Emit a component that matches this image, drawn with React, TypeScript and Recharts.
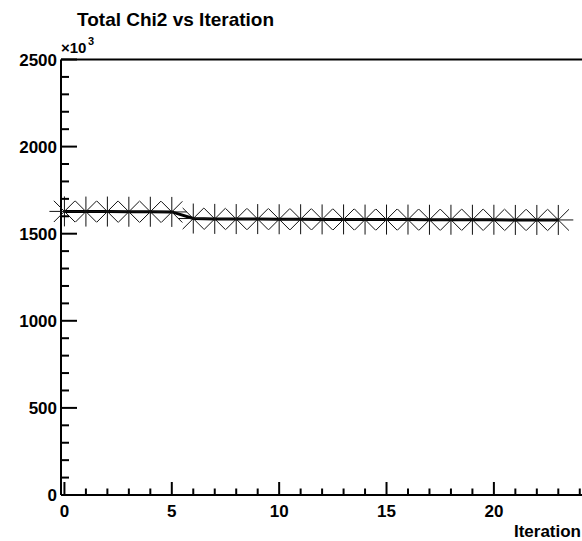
import React from 'react';
import { LineChart, Line, XAxis, YAxis, ReferenceLine } from 'recharts';

// ---- data (chi2 shown in units of 10^3) ----
const iterations = [0, 1, 2, 3, 4, 5, 6, 7, 8, 9, 10, 11, 12, 13, 14, 15, 16, 17, 18, 19, 20, 21, 22, 23];
const chi2Values = [1628, 1627, 1627, 1626, 1626, 1625, 1587, 1585, 1584, 1584, 1583, 1583, 1582, 1582, 1581, 1581, 1581, 1580, 1580, 1580, 1580, 1579, 1579, 1579];

const xMajorTicks = [0, 5, 10, 15, 20];
const xAllTicks = [0, 1, 2, 3, 4, 5, 6, 7, 8, 9, 10, 11, 12, 13, 14, 15, 16, 17, 18, 19, 20, 21, 22, 23, 24];
const yMajorTicks = [0, 500, 1000, 1500, 2000, 2500];
const yAllTicks = [0, 100, 200, 300, 400, 500, 600, 700, 800, 900, 1000, 1100, 1200, 1300, 1400, 1500, 1600, 1700, 1800, 1900, 2000, 2100, 2200, 2300, 2400, 2500];

const chartTitle = 'Total Chi2 vs Iteration';
const xTitle = 'Iteration';
const exponentBase = '×10';
const exponentPower = '3';

const xDomain: [number, number] = [-0.16, 24.29];
const yDomain: [number, number] = [0, 2500];

const data = iterations.map((it, i) => ({ iter: it, chi2: chi2Values[i] }));

const FONT = '"Liberation Sans", Arial, Helvetica, sans-serif';

const XTick = (props: any) => {
  const { x, y, payload } = props;
  const v = payload.value;
  const major = xMajorTicks.includes(v);
  const len = major ? 13 : 6.5;
  return (
    <g>
      <line x1={x} y1={y} x2={x} y2={y - len} stroke="#000" strokeWidth={2} />
      {major && (
        <text x={x} y={y + 22} textAnchor="middle" fontFamily={FONT} fontWeight="bold" fontSize={17} fill="#000">
          {v}
        </text>
      )}
    </g>
  );
};

const YTick = (props: any) => {
  const { x, y, payload } = props;
  const v = payload.value;
  const major = yMajorTicks.includes(v);
  const len = major ? 16 : 8;
  return (
    <g>
      <line x1={x} y1={y} x2={x + len} y2={y} stroke="#000" strokeWidth={2} />
      {major && (
        <text x={x - 4} y={y + 6} textAnchor="end" fontFamily={FONT} fontWeight="bold" fontSize={17} fill="#000">
          {v}
        </text>
      )}
    </g>
  );
};

const Asterisk = (props: any) => {
  const { cx, cy, index } = props;
  if (cx == null || cy == null) return <g key={`d${index}`} />;
  const r = 15;
  const d = r * Math.SQRT1_2;
  return (
    <g key={`d${index}`} stroke="#111" strokeWidth={1} fill="none">
      <line x1={cx - r} y1={cy} x2={cx + r} y2={cy} />
      <line x1={cx} y1={cy - r} x2={cx} y2={cy + r} />
      <line x1={cx - d} y1={cy - d} x2={cx + d} y2={cy + d} />
      <line x1={cx - d} y1={cy + d} x2={cx + d} y2={cy - d} />
    </g>
  );
};

export default function App() {
  return (
    <div style={{ position: 'absolute', left: 0, top: 0, width: 582, height: 541, overflow: 'hidden', background: '#fff' }}>
      <LineChart width={620} height={541} data={data} margin={{ top: 59.5, right: 34, bottom: 0, left: 0 }}>
        <XAxis
          dataKey="iter"
          type="number"
          domain={xDomain}
          ticks={xAllTicks}
          interval={0}
          height={46}
          tickSize={0}
          tickMargin={0}
          tickLine={false}
          tick={<XTick />}
          axisLine={{ stroke: '#000', strokeWidth: 2 }}
        />
        <YAxis
          type="number"
          domain={yDomain}
          ticks={yAllTicks}
          interval={0}
          width={61}
          tickSize={0}
          tickMargin={0}
          tickLine={false}
          tick={<YTick />}
          axisLine={{ stroke: '#000', strokeWidth: 2 }}
        />
        <ReferenceLine y={yDomain[1]} stroke="#000" strokeWidth={2} />
        <ReferenceLine x={xDomain[1]} stroke="#000" strokeWidth={2} />
        <Line
          dataKey="chi2"
          type="linear"
          stroke="#000"
          strokeWidth={3}
          dot={Asterisk}
          activeDot={false}
          isAnimationActive={false}
        />
      </LineChart>
      <svg width={582} height={541} style={{ position: 'absolute', left: 0, top: 0, pointerEvents: 'none' }}>
        <text x={77} y={26} fontFamily={FONT} fontWeight="bold" fontSize={19} fill="#000">
          {chartTitle}
        </text>
        <text x={61} y={53} fontFamily={FONT} fontWeight="bold" fontSize={15} fill="#000">
          {exponentBase}
        </text>
        <text x={88} y={45} fontFamily={FONT} fontWeight="bold" fontSize={11} fill="#000">
          {exponentPower}
        </text>
        <text x={581} y={537} textAnchor="end" fontFamily={FONT} fontWeight="bold" fontSize={17} fill="#000">
          {xTitle}
        </text>
      </svg>
    </div>
  );
}
